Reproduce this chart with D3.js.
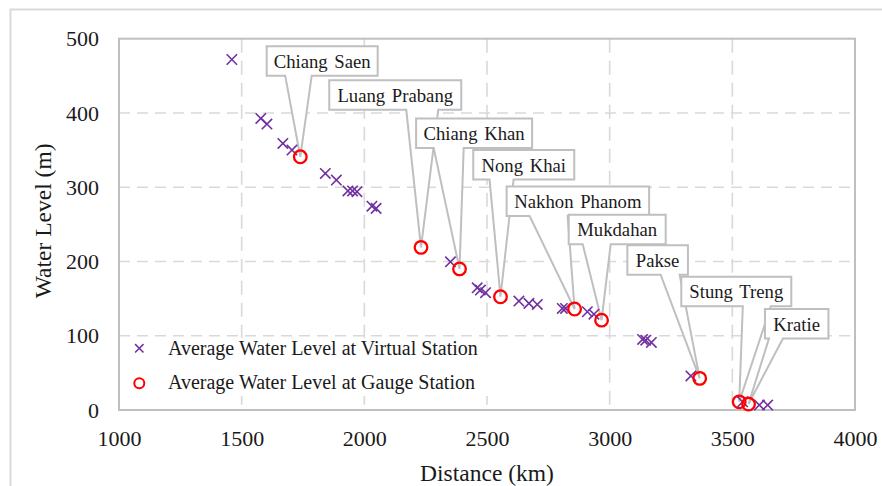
<!DOCTYPE html>
<html>
<head>
<meta charset="utf-8">
<script src="https://cdn.jsdelivr.net/npm/d3@7"></script>
<style>
  html, body { margin: 0; padding: 0; background: #fff; }
</style>
</head>
<body>
<svg id="chart" width="882" height="486" style="display:block"></svg>
<script>
// ---------- data ----------
const xTicks = [1000, 1500, 2000, 2500, 3000, 3500, 4000];
const yTicks = [0, 100, 200, 300, 400, 500];

const virtualDist  = [1460,1578,1603,1668,1705,1841,1886,1933,1952,1970,2031,2048,2351,2460,2473,2494,2630,2671,2705,2807,2820,2909,2936,3134,3147,3170,3331,3542,3610,3644];
const virtualLevel = [472,392.6,385,359,350,318.5,309.6,295,295,294,274.5,271.5,199.6,164.6,161.5,158,146.7,143.6,142.2,136.8,136.8,132.3,129,95,94,91,45.8,11,6.7,6.7];

const gaugeNames = ["Chiang Saen","Luang Prabang","Chiang Khan","Nong Khai","Nakhon Phanom","Mukdahan","Pakse","Stung Treng","Kratie"];
const gaugeDist  = [1739, 2231, 2388, 2555, 2857, 2967, 3367, 3528, 3566];
const gaugeLevel = [341, 219, 190, 152.5, 136, 121, 42.6, 11, 8];

const seriesNames = ["Average Water Level at Virtual Station", "Average Water Level at Gauge Station"];

// ---------- callout layout (box top-left in data units, width / wedge offsets in px) ----------
const calloutLeftKm = [1602, 1857, 2211, 2444, 2580, 2833, 3072, 3292, 3633];
const calloutTopM   = [490, 444, 392.6, 350, 301, 263, 222, 179.4, 136];
const calloutW      = [111, 132, 116, 101, 142.5, 97, 60.6, 110, 63.5];
const calloutWedge  = [[18.5,45],[77,109],[17.6,47.6],[16.3,40.3],[23,61],[14,42],[33.3,52.3],[61.5,89.5],[4,18]];
const calloutH = 29.5;

// ---------- layout ----------
const FONT = "Liberation Serif";
const L = 119, R = 855, T = 38.7, B = 410;
const x = d3.scaleLinear().domain([1000, 4000]).range([L, R]);
const y = d3.scaleLinear().domain([0, 500]).range([B, T]);

const svg = d3.select("#chart");
const gridColor = "#d9d9d9", borderColor = "#bfbfbf", textColor = "#1a1a1a";

// outer chart frame (top & left visible)
svg.append("rect").attr("x", 10.5).attr("y", 9.5).attr("width", 1000).attr("height", 1000)
  .attr("fill", "none").attr("stroke", gridColor).attr("stroke-width", 2);

// gridlines
svg.append("g").selectAll("line").data(yTicks.filter(d => d > 0 && d < 500)).join("line")
  .attr("x1", L).attr("x2", R).attr("y1", d => y(d)).attr("y2", d => y(d))
  .attr("stroke", gridColor).attr("stroke-width", 1.6).attr("stroke-dasharray", "11,7");
svg.append("g").selectAll("line").data(xTicks.filter(d => d > 1000 && d < 4000)).join("line")
  .attr("y1", T).attr("y2", B).attr("x1", d => x(d)).attr("x2", d => x(d))
  .attr("stroke", gridColor).attr("stroke-width", 1.6).attr("stroke-dasharray", "14,8");

// plot border
svg.append("rect").attr("x", L).attr("y", T).attr("width", R - L).attr("height", B - T)
  .attr("fill", "none").attr("stroke", borderColor).attr("stroke-width", 2);

// axes (labels only, via d3 axes)
const xAxis = svg.append("g").attr("transform", `translate(0,${B})`)
  .call(d3.axisBottom(x).tickValues(xTicks).tickFormat(d3.format("d")).tickSize(0).tickPadding(20));
xAxis.select(".domain").remove();
xAxis.selectAll("text").style("font-size", "22px").style("font-family", FONT).attr("fill", textColor);

const yAxis = svg.append("g").attr("transform", `translate(${L},0)`)
  .call(d3.axisLeft(y).tickValues(yTicks).tickFormat(d3.format("d")).tickSize(0).tickPadding(20));
yAxis.select(".domain").remove();
yAxis.selectAll("text").style("font-size", "22px").style("font-family", FONT).attr("fill", textColor);

// axis titles
svg.append("text").attr("x", (L + R) / 2).attr("y", 481).attr("text-anchor", "middle")
  .style("font-size", "23.5px").style("font-family", FONT).attr("fill", textColor).text("Distance (km)");
svg.append("text").attr("transform", `translate(51,${(T + B) / 2 - 3.5}) rotate(-90)`).attr("text-anchor", "middle")
  .style("font-size", "23.5px").style("font-family", FONT).attr("fill", textColor).text("Water Level (m)");

// legend
svg.append("rect").attr("x", 126).attr("y", 338).attr("width", 366).attr("height", 58).attr("fill", "#fff");
const lx = 139.3;
function cross(g, cx, cy, s, w) {
  g.append("path").attr("d", `M${cx - s},${cy - s}L${cx + s},${cy + s}M${cx - s},${cy + s}L${cx + s},${cy - s}`)
    .attr("stroke", "#7030a0").attr("stroke-width", w).attr("fill", "none");
}
const lg = svg.append("g");
cross(lg, lx, 348.3, 4.2, 1.5);
lg.append("circle").attr("cx", lx).attr("cy", 383.3).attr("r", 5).attr("fill", "none").attr("stroke", "#ff0000").attr("stroke-width", 2);
lg.append("text").attr("x", 168).attr("y", 355).style("font-size", "20px").style("font-family", FONT).attr("fill", textColor).text(seriesNames[0]);
lg.append("text").attr("x", 168).attr("y", 389).style("font-size", "20px").style("font-family", FONT).attr("fill", textColor).text(seriesNames[1]);

// callouts
const cg = svg.append("g");
gaugeNames.forEach((name, i) => {
  const bx = x(calloutLeftKm[i]), by = y(calloutTopM[i]), bw = calloutW[i], bh = calloutH;
  const px = x(gaugeDist[i]), py = y(gaugeLevel[i]);
  const [w1, w2] = calloutWedge[i];
  const d = `M${bx},${by}H${bx + bw}V${by + bh}H${bx + w2}L${px},${py}L${bx + w1},${by + bh}H${bx}Z`;
  cg.append("path").attr("d", d).attr("fill", "#fff").attr("stroke", borderColor)
    .attr("stroke-width", 2).attr("stroke-linejoin", "miter");
  cg.append("text").attr("x", bx + bw / 2).attr("y", by + 21.5).attr("text-anchor", "middle")
    .style("font-size", "18.7px").style("font-family", FONT).style("word-spacing", "2px").attr("fill", textColor).text(name);
});

// virtual station markers
const mg = svg.append("g");
virtualDist.forEach((d, i) => cross(mg, x(d), y(virtualLevel[i]), 5.2, 1.6));

// gauge markers
svg.append("g").selectAll("circle").data(gaugeDist).join("circle")
  .attr("cx", d => x(d)).attr("cy", (d, i) => y(gaugeLevel[i])).attr("r", 6.3)
  .attr("fill", "none").attr("stroke", "#ff0000").attr("stroke-width", 2.3);
</script>
</body>
</html>
